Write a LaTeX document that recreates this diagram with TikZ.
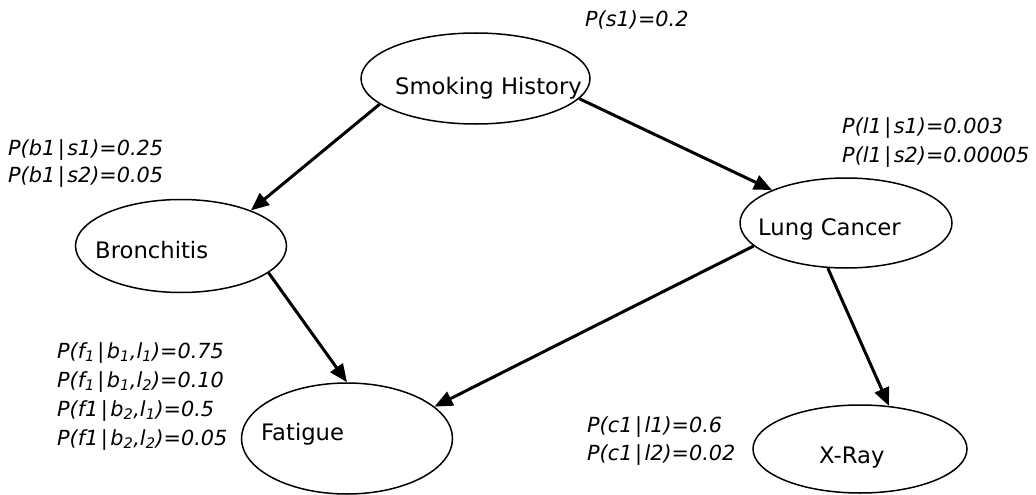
\documentclass[tikz,border=0pt]{standalone}
\usepackage{fontspec}
\setmainfont{DejaVu Sans}
\usetikzlibrary{shapes.geometric,arrows.meta}
% conditioning bar with a little air around it
\newcommand\condbar{\kern0.12em|\kern0.12em}
\begin{document}
\begin{tikzpicture}[x=1pt,y=-1pt,
  var/.style={ellipse,draw,line width=1.5pt,inner sep=0pt},
  varname/.style={anchor=base west,inner sep=0pt,font=\fontsize{22.7}{28}\selectfont},
  cpt/.style={anchor=base west,inner sep=0pt,font=\fontsize{20.8}{28}\selectfont\itshape},
  link/.style={line width=3pt,-{Triangle[length=18pt,width=15pt]}}]
\useasboundingbox (0,0) rectangle (1036,495);

% variables
\node[var,minimum width=229pt,minimum height=91pt] (smoke) at (475.5,78.5) {};
\node[var,minimum width=211pt,minimum height=93pt] (bron) at (181,246) {};
\node[var,minimum width=212pt,minimum height=90pt] (lung) at (846,223) {};
\node[var,minimum width=211pt,minimum height=111pt] (fat) at (347,438.5) {};
\node[var,minimum width=214pt,minimum height=88pt] (xray) at (860,449) {};

\node[varname] (smokeT) at (395,95) {Smoking History};
\node[varname] (bronT) at (95,258) {Bronchitis};
\node[varname] (lungT) at (758,235) {Lung Cancer};
\node[varname] (fatT) at (261,440) {Fatigue};
\node[varname] (xrayT) at (819,463) {X-Ray};

% conditional probability tables
\node[cpt] (ps) at (585,27) {P(s1)=0.2};
\node[cpt] (pb1) at (8,155) {P(b1\condbar s1)=0.25};
\node[cpt] (pb2) at (8,182) {P(b1\condbar s2)=0.05};
\node[cpt] (pl1) at (842,133) {P(l1\condbar s1)=0.003};
\node[cpt] (pl2) at (842,162) {P(l1\condbar s2)=0.00005};
\node[cpt] (pf1) at (57,358) {P(f\textsubscript{1}\condbar b\textsubscript{1},l\textsubscript{1})=0.75};
\node[cpt] (pf2) at (57,387) {P(f\textsubscript{1}\condbar b\textsubscript{1},l\textsubscript{2})=0.10};
\node[cpt] (pf3) at (57,416) {P(f1\condbar b\textsubscript{2},l\textsubscript{1})=0.5};
\node[cpt] (pf4) at (57,445) {P(f1\condbar b\textsubscript{2},l\textsubscript{2})=0.05};
\node[cpt] (pc1) at (587,432) {P(c1\condbar l1)=0.6};
\node[cpt] (pc2) at (587,460) {P(c1\condbar l2)=0.02};

% dependencies
\draw[link] (smoke.195) -- (bron.27);
\draw[link] (smoke.349) -- (lung.156);
\draw[link] (bron.343) -- (fat.90);
\draw[link] (lung.194) -- (fat.20);
\draw[link] (lung.248) -- (xray.56);
\end{tikzpicture}
\end{document}
